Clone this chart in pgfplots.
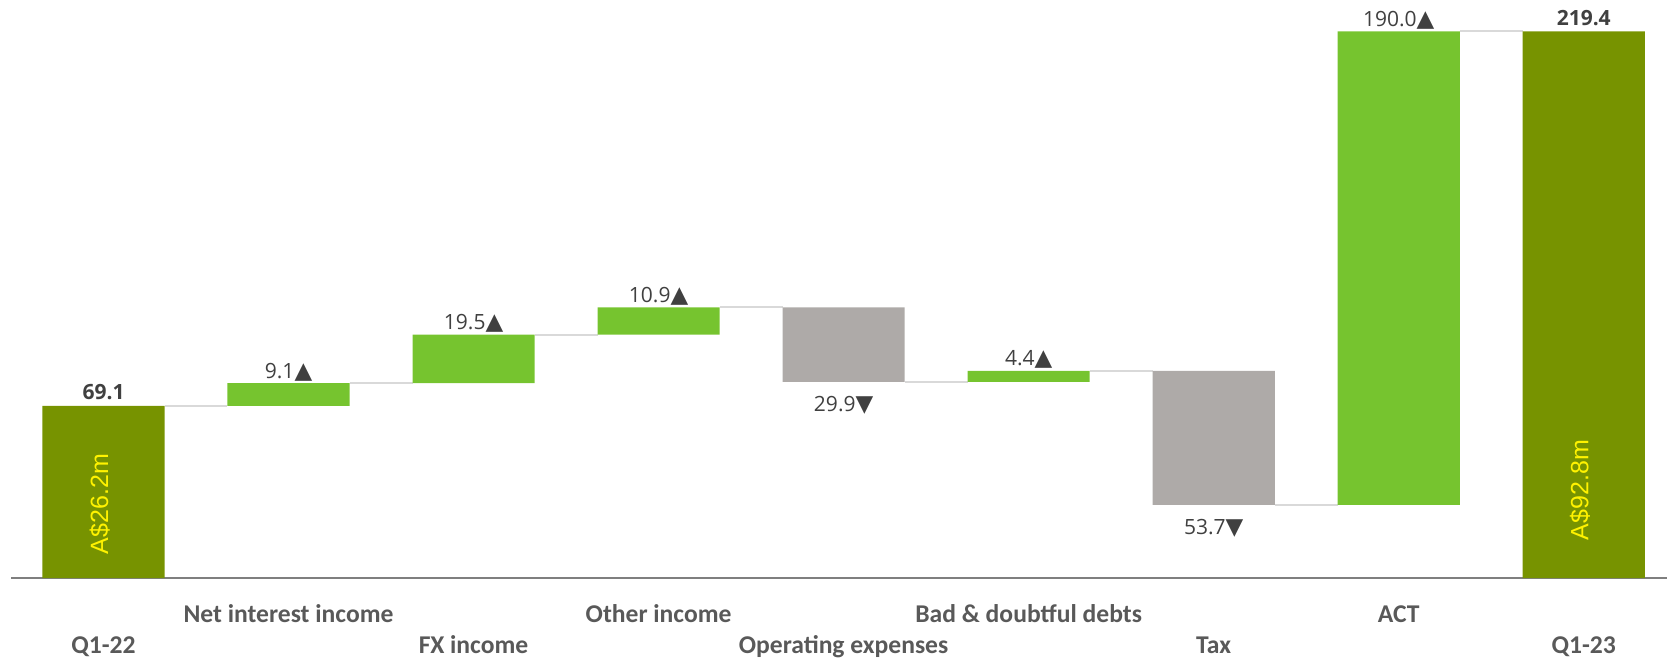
\documentclass[border=0pt]{standalone}
\usepackage{fontspec}
\usepackage{pgfplots}
\pgfplotsset{compat=1.18}
\setmainfont{Carlito}
\newfontfamily\myvalfont{Open Sans}
\newfontfamily\mytrifont{DejaVu Sans}
\newfontfamily\myinbarfont{Liberation Sans}
\definecolor{totcol}{HTML}{779300}
\definecolor{upcol}{HTML}{76C42F}
\definecolor{downcol}{HTML}{AEAAA8}
\definecolor{valtext}{HTML}{404040}
\definecolor{cattext}{HTML}{595959}
\definecolor{conn}{HTML}{D9D9D9}
\definecolor{axiscol}{HTML}{7F7F7F}
\DeclareRobustCommand{\myvalsz}{\fontsize{10.5bp}{12bp}\selectfont\myvalfont}
\DeclareRobustCommand{\myup}{{\fontsize{11.5bp}{12bp}\selectfont\mytrifont ▲}}
\DeclareRobustCommand{\mydown}{{\fontsize{11.5bp}{12bp}\selectfont\mytrifont ▼}}
\DeclareRobustCommand{\mycatfont}{\fontsize{12.8bp}{14bp}\selectfont\bfseries}
\pgfplotsset{wfall/.style={
  scale only axis, width=828bp, height=289bp,
  xmin=-0.5, xmax=8.45, ymin=0, ymax=232,
  clip=false, at={(0,0)}, anchor=south west}}
\begin{document}
\begin{tikzpicture}
% connectors
\begin{axis}[wfall, hide axis]
\addplot[conn, line width=1bp, no marks] coordinates {(0.33,69.1) (0.67,69.1)};
\addplot[conn, line width=1bp, no marks] coordinates {(1.33,78.2) (1.67,78.2)};
\addplot[conn, line width=1bp, no marks] coordinates {(2.33,97.7) (2.67,97.7)};
\addplot[conn, line width=1bp, no marks] coordinates {(3.33,108.6) (3.67,108.6)};
\addplot[conn, line width=1bp, no marks] coordinates {(4.33,78.7) (4.67,78.7)};
\addplot[conn, line width=1bp, no marks] coordinates {(5.33,83.1) (5.67,83.1)};
\addplot[conn, line width=1bp, no marks] coordinates {(6.33,29.4) (6.67,29.4)};
\addplot[conn, line width=1bp, no marks] coordinates {(7.33,219.4) (7.67,219.4)};
% baseline axis
\addplot[axiscol, line width=1.4bp, no marks] coordinates {(-0.5,0) (8.45,0)};
\end{axis}
% bars
\begin{axis}[wfall, hide axis,
  ybar stacked, bar width=0.66]
\addplot[draw=none, fill=none] coordinates {(0,0) (1,69.1) (2,78.2) (3,97.7) (4,78.7) (5,78.7) (6,29.4) (7,29.4) (8,0)};
\addplot[draw=none, fill=totcol] coordinates {(0,69.1) (1,0) (2,0) (3,0) (4,0) (5,0) (6,0) (7,0) (8,219.4)};
\addplot[draw=none, fill=upcol] coordinates {(0,0) (1,9.1) (2,19.5) (3,10.9) (4,0) (5,4.4) (6,0) (7,190.0) (8,0)};
\addplot[draw=none, fill=downcol] coordinates {(0,0) (1,0) (2,0) (3,0) (4,29.9) (5,0) (6,53.7) (7,0) (8,0)};
\end{axis}
% labels
\begin{axis}[wfall, hide axis]
\begin{scope}[every node/.style={text=valtext, inner sep=0pt}]
\node[anchor=base, yshift=3bp] at (axis cs:0,69.1) {\myvalsz\bfseries 69.1};
\node[anchor=base, yshift=3bp] at (axis cs:8,219.4) {\myvalsz\bfseries 219.4};
\node[anchor=base, yshift=2.5bp] at (axis cs:1,78.2) {\myvalsz 9.1\myup};
\node[anchor=base, yshift=2.5bp] at (axis cs:2,97.7) {\myvalsz 19.5\myup};
\node[anchor=base, yshift=2.5bp] at (axis cs:3,108.6) {\myvalsz 10.9\myup};
\node[anchor=base, yshift=-15bp] at (axis cs:4,78.7) {\myvalsz 29.9\mydown};
\node[anchor=base, yshift=2.5bp] at (axis cs:5,83.1) {\myvalsz 4.4\myup};
\node[anchor=base, yshift=-15bp] at (axis cs:6,29.4) {\myvalsz 53.7\mydown};
\node[anchor=base, yshift=2.5bp] at (axis cs:7,219.4) {\myvalsz 190.0\myup};
\end{scope}
\begin{scope}[every node/.style={text=cattext, inner sep=0pt, anchor=base}]
\node[yshift=-37.5bp] at (axis cs:0,0) {\mycatfont Q1-22};
\node[yshift=-22bp] at (axis cs:1,0) {\mycatfont Net interest income};
\node[yshift=-37.5bp] at (axis cs:2,0) {\mycatfont FX income};
\node[yshift=-22bp] at (axis cs:3,0) {\mycatfont Other income};
\node[yshift=-37.5bp] at (axis cs:4,0) {\mycatfont Operating expenses};
\node[yshift=-22bp] at (axis cs:5,0) {\mycatfont Bad \& doubtful debts};
\node[yshift=-37.5bp] at (axis cs:6,0) {\mycatfont Tax};
\node[yshift=-22bp] at (axis cs:7,0) {\mycatfont ACT};
\node[yshift=-37.5bp] at (axis cs:8,0) {\mycatfont Q1-23};
\end{scope}
\node[rotate=90, text=yellow, inner sep=0pt] at (axis cs:-0.02,29.7) {\fontsize{12.5bp}{14bp}\selectfont\myinbarfont A\$26.2m};
\node[rotate=90, text=yellow, inner sep=0pt] at (axis cs:7.98,35.3) {\fontsize{12.5bp}{14bp}\selectfont\myinbarfont A\$92.8m};
\end{axis}
\pgfresetboundingbox
\path[use as bounding box] (-5.5bp,-40bp) rectangle (828bp,289bp);
\end{tikzpicture}
\end{document}
